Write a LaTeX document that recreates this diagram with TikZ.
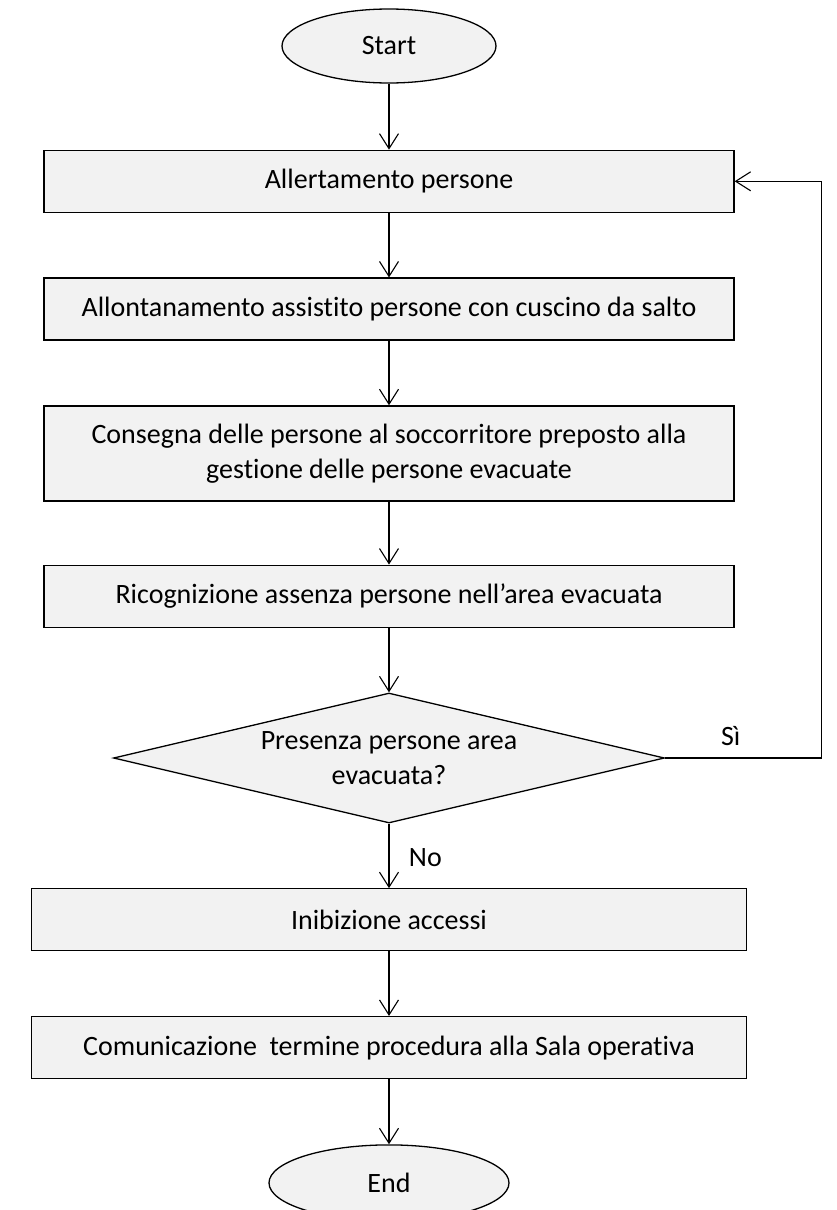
\documentclass[tikz,border=0pt]{standalone}
\usepackage{fontspec}
\setmainfont{Carlito}[Ligatures=NoCommon]
\usepackage{xcolor}
\usepackage{tikz}
\usetikzlibrary{shapes.geometric, arrows.meta, positioning}

\definecolor{boxgray}{HTML}{F2F2F2}

\begin{document}
\begin{tikzpicture}[
    node distance=64.5pt,
    font=\fontsize{28}{35}\selectfont,
    every node/.style={line width=1.3pt},
    box/.style={draw, rectangle, fill=boxgray, minimum height=62pt,
      minimum width=690pt, align=center},
    terminal/.style={draw, ellipse, fill=boxgray, minimum height=74pt,
      minimum width=214pt, inner sep=0pt},
    decision/.style={draw, diamond, fill=boxgray, minimum width=551pt,
      minimum height=130pt, aspect=4.2, inner sep=0pt, align=center},
    arrow/.style={line width=1.1pt, -{Straight Barb[length=15pt,width=19pt]}}
]
\useasboundingbox (0,0) rectangle (837pt,-1210pt);

\node[terminal] (start) at (389pt,-46pt) {Start};
\node[box, below=66pt of start] (alert) {Allertamento persone};
\node[box, below=of alert] (jump) {Allontanamento assistito persone con cuscino da salto};
\node[box, below=of jump, minimum height=95pt] (handover) {Consegna delle persone al soccorritore preposto alla\\gestione delle persone evacuate};
\node[box, below=63pt of handover] (survey) {Ricognizione assenza persone nell’area evacuata};
\node[decision, below=of survey] (check) {Presenza persone area\\evacuata?};
\node[box, below=of check, minimum width=715pt] (block) {Inibizione accessi};
\node[box, below=of block, minimum width=715pt] (report) {Comunicazione~ termine procedura alla Sala operativa};
\node[terminal, below=65pt of report, minimum width=240pt, minimum height=76pt] (stop) {End};

\draw[arrow] (start) -- (alert);
\draw[arrow] (alert) -- (jump);
\draw[arrow] (jump) -- (handover);
\draw[arrow] (handover) -- (survey);
\draw[arrow] (survey) -- (check);
\draw[arrow] (check) -- node[right, xshift=16pt, yshift=-2pt] {No} (block);
\draw[arrow] (block) -- (report);
\draw[arrow] (report) -- (stop);
\draw[arrow] (check.east) -- node[pos=0.42, above, yshift=8pt] {Sì} ++(156pt,0) |- (alert.east);
\end{tikzpicture}
\end{document}
